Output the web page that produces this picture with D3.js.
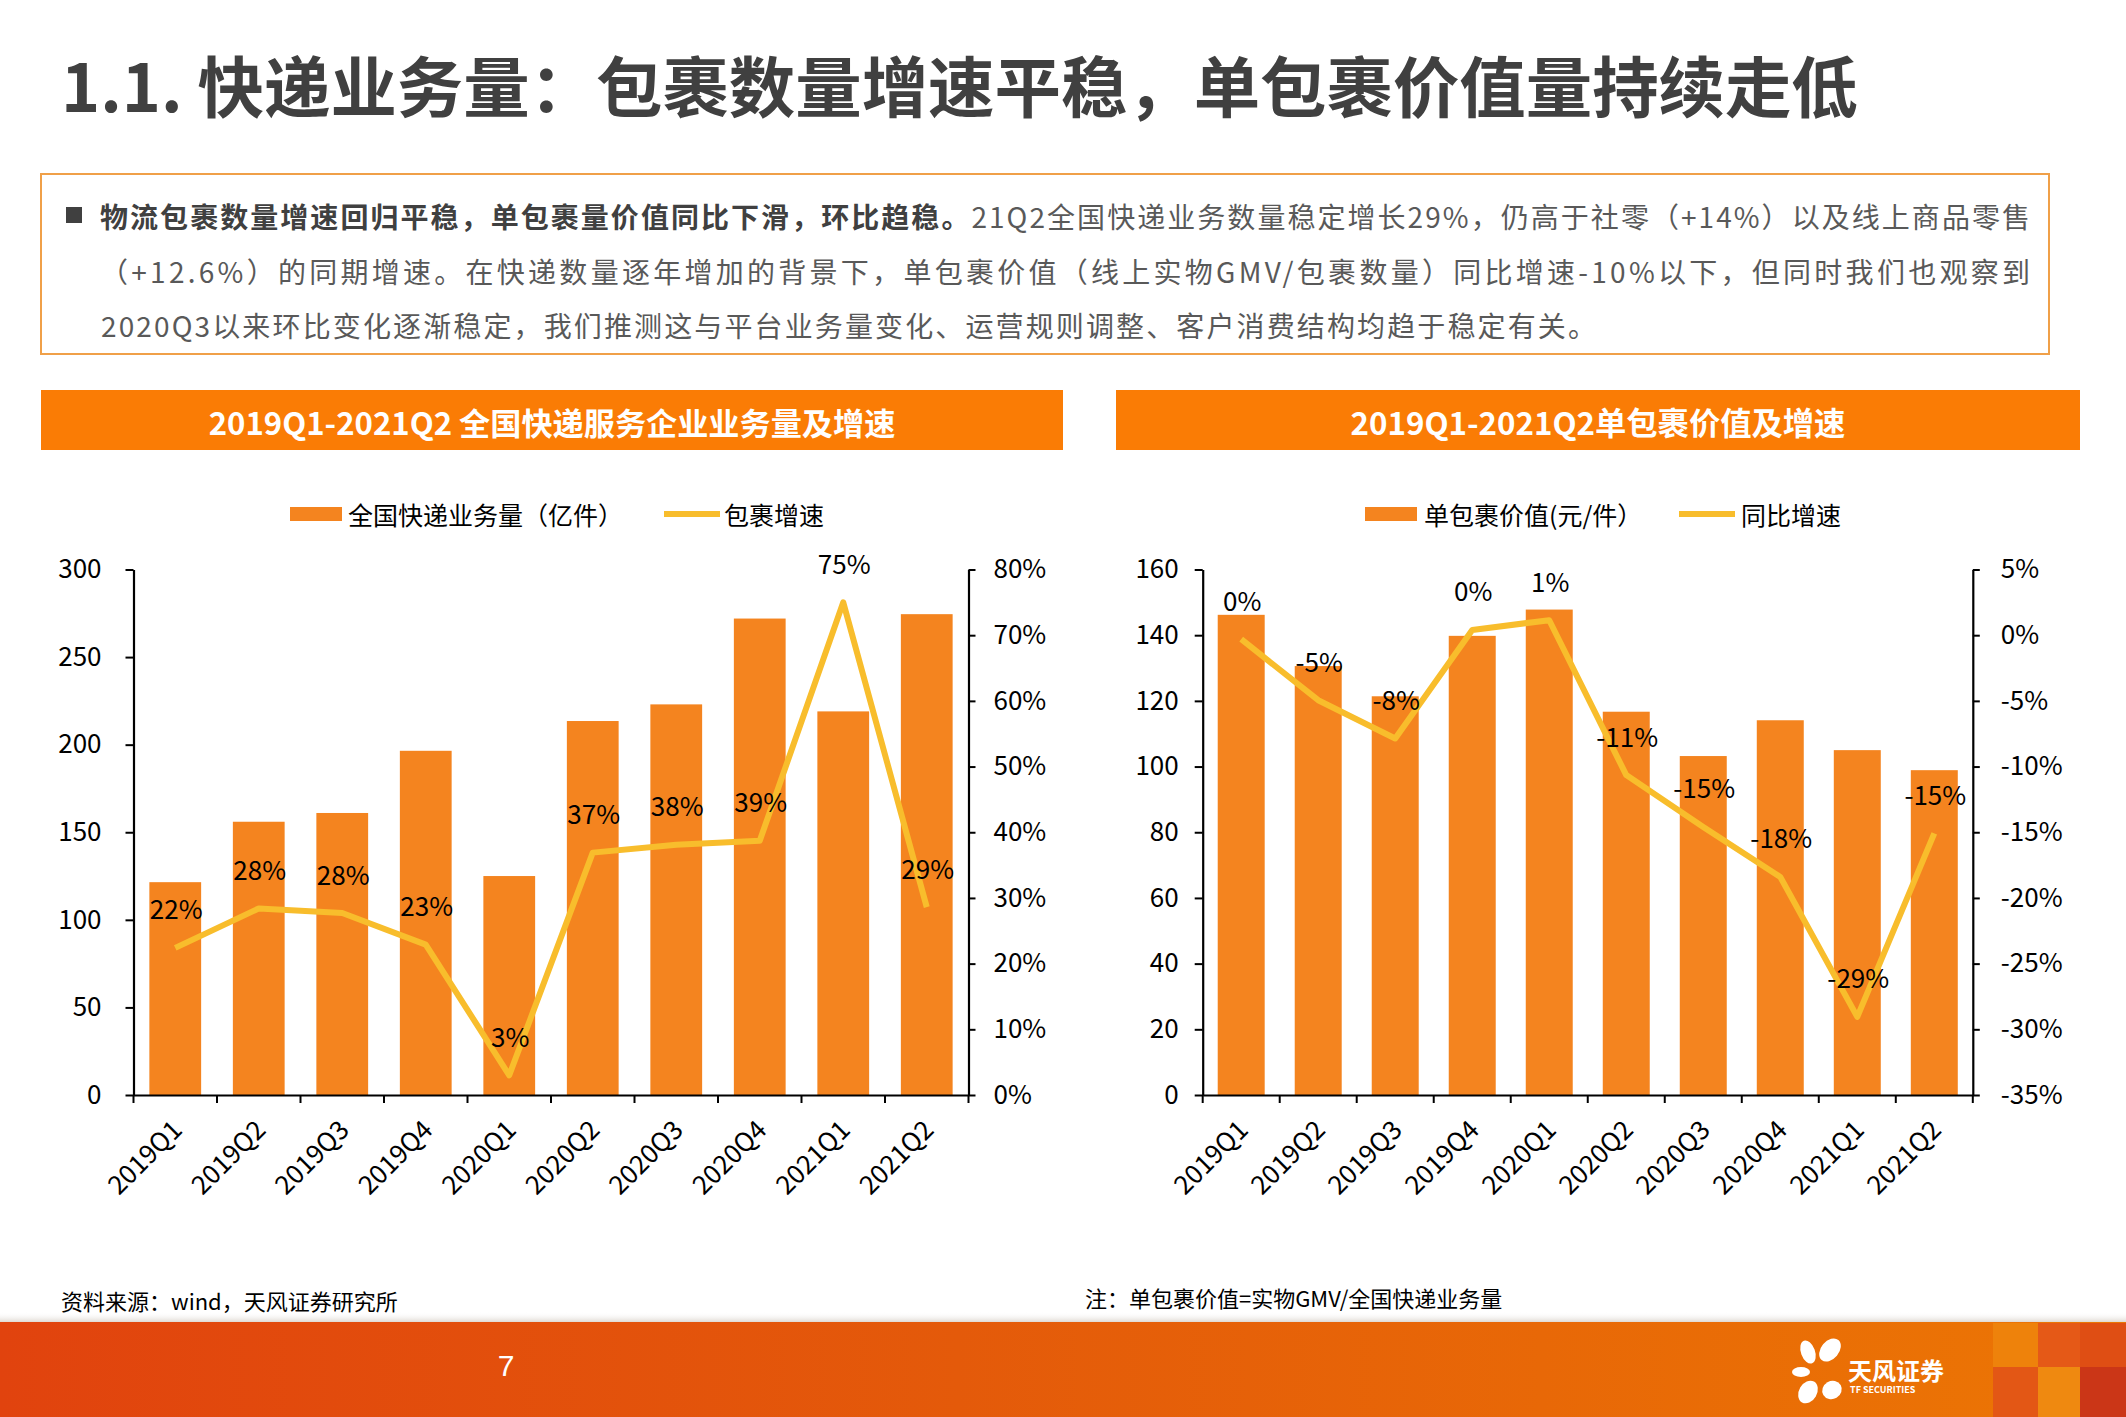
<!DOCTYPE html>
<html><head><meta charset="utf-8">
<script src="https://cdn.jsdelivr.net/npm/d3@7"></script>
<style>
html,body{margin:0;padding:0;background:#fff;}
svg{display:block;font-family:"Noto Sans CJK SC","Noto Sans",sans-serif;}
</style></head><body>
<svg id="c" width="2126" height="1417"></svg>
<script>
// ---------------- data ----------------
const quarters = ["2019Q1","2019Q2","2019Q3","2019Q4","2020Q1","2020Q2","2020Q3","2020Q4","2021Q1","2021Q2"];
const volume = [121.5,156,161,196.5,125,213.5,223,272,219,274.5];          // 亿件
const volumeGrowth = [22.4,28.4,27.7,22.9,3.0,36.9,38.1,38.7,75.0,28.6];  // %
const parcelValue = [146.2,130.6,121.4,139.8,147.8,116.7,103.2,114.1,105,98.9]; // 元/件
const valueGrowth = [-0.3,-4.95,-7.86,0.4,1.14,-10.65,-14.6,-18.4,-29.05,-15.09]; // %
const volumeTicks = [0,50,100,150,200,250,300];
const volumeGrowthTicks = [0,10,20,30,40,50,60,70,80];
const valueTicks = [0,20,40,60,80,100,120,140,160];
const valueGrowthTicks = [5,0,-5,-10,-15,-20,-25,-30,-35];

const pageTitle = "1.1. 快递业务量：包裹数量增速平稳，单包裹价值量持续走低";
const boxBold = "物流包裹数量增速回归平稳，单包裹量价值同比下滑，环比趋稳。";
const boxLine1 = "21Q2全国快递业务数量稳定增长29%，仍高于社零（+14%）以及线上商品零售";
const boxLine2 = "（+12.6%）的同期增速。在快递数量逐年增加的背景下，单包裹价值（线上实物GMV/包裹数量）同比增速-10%以下，但同时我们也观察到";
const boxLine3 = "2020Q3以来环比变化逐渐稳定，我们推测这与平台业务量变化、运营规则调整、客户消费结构均趋于稳定有关。";
const leftTitle = "2019Q1-2021Q2 全国快递服务企业业务量及增速";
const rightTitle = "2019Q1-2021Q2单包裹价值及增速";
const leftLegend = ["全国快递业务量（亿件）","包裹增速"];
const rightLegend = ["单包裹价值(元/件）","同比增速"];
const sourceNote = "资料来源：wind，天风证券研究所";
const formulaNote = "注：单包裹价值=实物GMV/全国快递业务量";

// ---------------- style ----------------
const BAR = "#F4841F", LINE = "#F8BD2C", HEAD = "#FA7C05";
const svg = d3.select("#c");

function fitFont(sel, target){
  const w = sel.node().getComputedTextLength();
  const fs = parseFloat(sel.attr("font-size"));
  sel.attr("font-size", fs*target/w);
}
function fitSpacing(sel, target){
  sel.attr("letter-spacing", 0);
  const w = sel.node().getComputedTextLength();
  const n = sel.text().length;
  sel.attr("letter-spacing", (target-w)/(n-1));
}
const pct = v => { const r = Math.round(v); return (r === 0 ? 0 : r) + "%"; };

// ---------------- page title ----------------
const t = svg.append("text").attr("x",61).attr("y",83).attr("dominant-baseline","central")
  .attr("font-size",64).attr("font-weight","bold").attr("fill","#404040").text(pageTitle);
fitFont(t, 1797);

// ---------------- text box ----------------
svg.append("rect").attr("x",41).attr("y",174).attr("width",2008).attr("height",180)
  .attr("fill","#fff").attr("stroke","#F0A048").attr("stroke-width",2);
svg.append("rect").attr("x",66).attr("y",207).attr("width",16).attr("height",16).attr("fill","#404040");
const l1 = svg.append("text").attr("x",100).attr("y",216).attr("dominant-baseline","central").attr("font-size",28);
l1.append("tspan").attr("font-weight","bold").attr("fill","#404040").text(boxBold);
l1.append("tspan").attr("fill","#595959").text(boxLine1);
fitSpacing(l1, 1930);
const l2 = svg.append("text").attr("x",100).attr("y",271).attr("dominant-baseline","central").attr("font-size",28).attr("fill","#595959").text(boxLine2);
fitSpacing(l2, 1930);
const l3 = svg.append("text").attr("x",101).attr("y",325).attr("dominant-baseline","central").attr("font-size",28).attr("fill","#595959").text(boxLine3);
fitSpacing(l3, 1495);

// ---------------- chart headers ----------------
function header(x0,x1,label,w){
  svg.append("rect").attr("x",x0).attr("y",390).attr("width",x1-x0).attr("height",60).attr("fill",HEAD);
  const h = svg.append("text").attr("x",(x0+x1)/2).attr("y",421).attr("text-anchor","middle")
    .attr("dominant-baseline","central").attr("font-size",30).attr("font-weight","bold").attr("fill","#fff").text(label);
  fitFont(h, w);
}
header(41,1063,leftTitle,687);
header(1116,2080,rightTitle,495);

// ---------------- legends ----------------
function legend(rx, tx1, lx, tx2, labels){
  svg.append("rect").attr("x",rx).attr("y",507).attr("width",52).attr("height",14).attr("fill",BAR);
  svg.append("text").attr("x",tx1).attr("y",514).attr("dominant-baseline","central").attr("font-size",25).attr("fill","#000").text(labels[0]);
  svg.append("line").attr("x1",lx).attr("x2",lx+56).attr("y1",514).attr("y2",514).attr("stroke",LINE).attr("stroke-width",6);
  svg.append("text").attr("x",tx2).attr("y",514).attr("dominant-baseline","central").attr("font-size",25).attr("fill","#000").text(labels[1]);
}
legend(290,348,664,724,leftLegend);
legend(1365,1424,1679,1741,rightLegend);

// ---------------- charts ----------------
const Y0 = 1095, Y1 = 569.5;
function chart(o){
  const g = svg.append("g");
  const x = d3.scaleBand().domain(quarters).range([o.x0,o.x1]).paddingInner(o.pad).paddingOuter(o.pad/2);
  const yL = d3.scaleLinear().domain([o.ticksL[0], o.ticksL[o.ticksL.length-1]]).range([Y0,Y1]);
  const yR = d3.scaleLinear().domain(d3.extent(o.ticksR)).range([Y0,Y1]);
  const cx = q => x(q) + x.bandwidth()/2;

  g.selectAll("rect.bar").data(o.bars).join("rect").attr("class","bar")
    .attr("x",(d,i)=>x(quarters[i])).attr("y",d=>yL(d)).attr("width",x.bandwidth())
    .attr("height",d=>yL(0)-yL(d)).attr("fill",BAR);

  const al = g.append("g").attr("transform",`translate(${o.x0},0)`)
    .call(d3.axisLeft(yL).tickValues(o.ticksL).tickSize(8).tickSizeOuter(0).tickPadding(o.padL));
  const ar = g.append("g").attr("transform",`translate(${o.x1},0)`)
    .call(d3.axisRight(yR).tickValues(o.ticksR).tickSize(7).tickSizeOuter(0).tickPadding(o.padR).tickFormat(d=>d+"%"));
  const ab = g.append("g").attr("transform",`translate(0,${Y0})`)
    .call(d3.axisBottom(x).tickSize(0).tickSizeOuter(0));
  ab.selectAll("text").attr("x",0).attr("y",0).attr("dy","0.35em").attr("text-anchor","end")
    .attr("transform","translate(2,30) rotate(-45)");
  for(let i=0;i<=quarters.length;i++){
    const bx = o.x0 + i*x.step();
    ab.append("line").attr("x1",bx).attr("x2",bx).attr("y1",0).attr("y2",8).attr("stroke","#000").attr("stroke-width",2);
  }
  [al,ar,ab].forEach(a=>{
    a.selectAll("path.domain").attr("stroke","#000").attr("stroke-width",2.2);
    a.selectAll(".tick line").attr("stroke","#000").attr("stroke-width",2);
    a.selectAll("text").attr("font-size",26).attr("fill","#000").attr("font-family",'"Noto Sans CJK SC",sans-serif');
  });

  const line = d3.line().x((d,i)=>cx(quarters[i])).y(d=>yR(d));
  g.append("path").datum(o.line).attr("d",line).attr("fill","none")
    .attr("stroke",LINE).attr("stroke-width",6).attr("stroke-linejoin","round").attr("stroke-linecap","butt");

  g.selectAll("text.lbl").data(o.line).join("text").attr("class","lbl")
    .attr("x",(d,i)=>cx(quarters[i])+1).attr("y",d=>yR(d)-40)
    .attr("text-anchor","middle").attr("dominant-baseline","central")
    .attr("font-size",26).attr("fill","#000").text(pct);
}
chart({x0:133.5,x1:968.5,pad:0.38,bars:volume,line:volumeGrowth,ticksL:volumeTicks,ticksR:volumeGrowthTicks,padL:24,padR:18});
chart({x0:1202.7,x1:1972.8,pad:0.39,bars:parcelValue,line:valueGrowth,ticksL:valueTicks,ticksR:valueGrowthTicks.slice().reverse(),padL:16,padR:21});

// ---------------- notes ----------------
svg.append("text").attr("x",61).attr("y",1300).attr("dominant-baseline","central").attr("font-size",22).attr("fill","#000").text(sourceNote);
svg.append("text").attr("x",1085).attr("y",1297).attr("dominant-baseline","central").attr("font-size",22).attr("fill","#000").text(formulaNote);

// ---------------- footer ----------------
const defs = svg.append("defs");
const gr = defs.append("linearGradient").attr("id","fg").attr("x1",0).attr("x2",1).attr("y1",0).attr("y2",0);
gr.append("stop").attr("offset","0%").attr("stop-color","#E1430E");
gr.append("stop").attr("offset","45%").attr("stop-color","#E45A0A");
gr.append("stop").attr("offset","100%").attr("stop-color","#EC7604");
const sh = defs.append("linearGradient").attr("id","sh").attr("x1",0).attr("x2",0).attr("y1",0).attr("y2",1);
sh.append("stop").attr("offset","0%").attr("stop-color","#fff").attr("stop-opacity",0);
sh.append("stop").attr("offset","100%").attr("stop-color","#d8d0c8").attr("stop-opacity",0.8);
svg.append("rect").attr("x",0).attr("y",1312).attr("width",2126).attr("height",10).attr("fill","url(#sh)");
svg.append("rect").attr("x",0).attr("y",1322).attr("width",2126).attr("height",95).attr("fill","url(#fg)");
const sq = [[1993,1323,45,44,"#EE840C"],[2038,1323,42,44,"#E4561A"],[2080,1323,46,44,"#DE4A16"],
            [1993,1367,45,50,"#E25417"],[2038,1367,42,50,"#F08C12"],[2080,1367,46,50,"#C83019"]];
sq.forEach(s=>svg.append("rect").attr("x",s[0]).attr("y",s[1]).attr("width",s[2]).attr("height",s[3]).attr("fill",s[4]).attr("opacity",0.9));
svg.append("text").attr("x",506).attr("y",1365).attr("text-anchor","middle").attr("dominant-baseline","central")
  .attr("font-size",30).attr("fill","#fff").attr("font-family","Liberation Sans, sans-serif").text("7");
const lg = svg.append("g").attr("fill","#fff");
[[1808,1352,7,12,-20],[1830,1350,9,13,40],[1801,1372,9,5,0],[1808,1392,9,12,30],[1832,1390,10,9,-30]].forEach(p=>{
  lg.append("ellipse").attr("cx",p[0]).attr("cy",p[1]).attr("rx",p[2]).attr("ry",p[3]).attr("transform",`rotate(${p[4]},${p[0]},${p[1]})`);
});
lg.append("text").attr("x",1848).attr("y",1369).attr("dominant-baseline","central").attr("font-size",24).attr("font-weight","bold").text("天风证券");
lg.append("text").attr("x",1850).attr("y",1389).attr("dominant-baseline","central").attr("font-size",9).attr("font-weight","bold").text("TF SECURITIES");
</script>
</body></html>
